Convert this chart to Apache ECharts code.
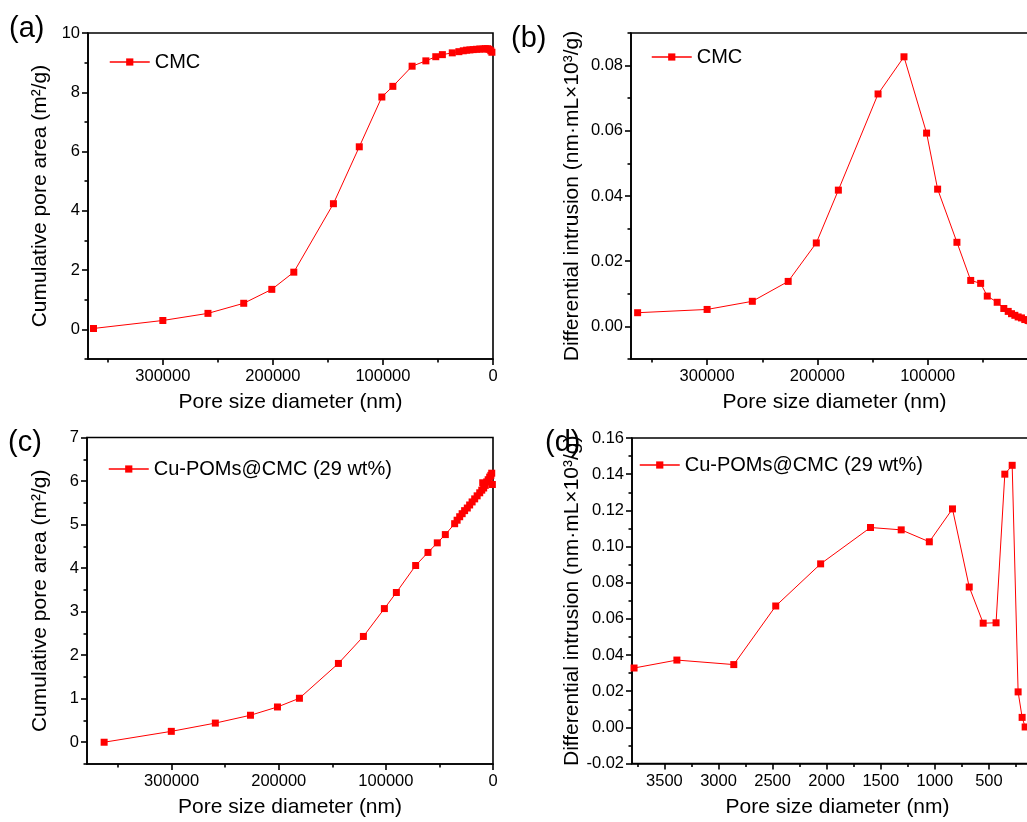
<!DOCTYPE html>
<html><head><meta charset="utf-8">
<script src="https://cdn.jsdelivr.net/npm/echarts@6/dist/echarts.min.js"></script>
<style>html,body{margin:0;padding:0;background:#fff}#c{width:1027px;height:822px}</style>
</head><body><div id="c"></div>
<script>
// ---- data ----
const poreCMC = [363000, 300000, 259000, 226500, 201000, 181000, 145000, 121500, 101000, 91000, 73500, 61000, 52000, 46000, 37000, 31000, 27000, 24000, 21000, 18000, 15000, 12000, 9000, 7000, 5000, 3500, 2000, 1000];
const cumCMC  = [0.03, 0.30, 0.54, 0.88, 1.35, 1.93, 4.24, 6.16, 7.84, 8.20, 8.88, 9.06, 9.20, 9.27, 9.33, 9.37, 9.40, 9.42, 9.43, 9.44, 9.45, 9.46, 9.46, 9.47, 9.47, 9.45, 9.40, 9.35];
const diffCMC = [0.0042, 0.0052, 0.0077, 0.0138, 0.0256, 0.0418, 0.0713, 0.0827, 0.0593, 0.0421, 0.0258, 0.0141, 0.0132, 0.0093, 0.0074, 0.0055, 0.0046, 0.0039, 0.0034, 0.0029, 0.0026, 0.0021, 0.0018, 0.0016, 0.0014, 0.0012, 0.0010, 0.0008];

const poreCu = [363000, 300300, 259200, 226400, 201200, 180700, 144300, 121000, 101400, 90200, 72200, 60700, 52000, 44500, 35800, 33500, 31100, 28800, 26500, 24000, 21800, 19500, 17100, 14800, 12400, 10500, 9600, 8700, 7200, 5900, 4500, 3100, 2000, 1200, 600];
const cumCu  = [0.00, 0.25, 0.44, 0.62, 0.81, 1.01, 1.81, 2.43, 3.07, 3.44, 4.06, 4.36, 4.58, 4.77, 5.02, 5.10, 5.18, 5.25, 5.32, 5.38, 5.45, 5.52, 5.59, 5.66, 5.73, 5.79, 5.96, 5.84, 5.90, 5.98, 6.03, 6.09, 6.13, 6.18, 5.92];

const poreCuD = [3781, 3385, 2859, 2471, 2056, 1595, 1311, 1051, 837, 682, 553, 434, 353, 285, 230, 193, 165];
const diffCu  = [0.0328, 0.0372, 0.0347, 0.0671, 0.0904, 0.1105, 0.1092, 0.1026, 0.1208, 0.0776, 0.0576, 0.0578, 0.1400, 0.1449, 0.0196, 0.0055, 0.0002];

// ---- tick values ----
const bigXMajor = [0, 100000, 200000, 300000];
const bigXMinor = [50000, 150000, 250000, 350000];
const aYMajor = [0, 2, 4, 6, 8, 10];
const aYMinor = [-1, 1, 3, 5, 7, 9];
const bYMajor = [0, 0.02, 0.04, 0.06, 0.08];
const bYMinor = [-0.01, 0.01, 0.03, 0.05, 0.07, 0.09];
const cYMajor = [0, 1, 2, 3, 4, 5, 6, 7];
const cYMinor = [-0.5, 0.5, 1.5, 2.5, 3.5, 4.5, 5.5, 6.5];
const dXMajor = [500, 1000, 1500, 2000, 2500, 3000, 3500];
const dXMinor = [250, 750, 1250, 1750, 2250, 2750, 3250, 3750];
const dYMajor = [-0.02, 0, 0.02, 0.04, 0.06, 0.08, 0.10, 0.12, 0.14, 0.16];
const dYMinor = [-0.01, 0.01, 0.03, 0.05, 0.07, 0.09, 0.11, 0.13, 0.15];

const xName = 'Pore size diameter (nm)';
const cumName = 'Cumulative pore area (m²/g)';
const diffName = 'Differential intrusion (nm·mL×10³/g)';

const FONT = '"Liberation Sans", Arial, Helvetica, sans-serif';
const RED = '#ff0000';

const grids = [
  {left: 88, top: 33, width: 405, height: 326},
  {left: 631, top: 33, width: 407, height: 326},
  {left: 87, top: 437.5, width: 406, height: 326.5},
  {left: 632, top: 438, width: 411, height: 325.5}
];

function axisPair(dim, g, o) {
  const base = {
    type: 'value', gridIndex: g, min: o.min, max: o.max, inverse: !!o.inverse,
    position: dim === 'x' ? 'bottom' : 'left',
    splitLine: {show: false}
  };
  const main = Object.assign({}, base, {
    axisLine: {show: true, onZero: false, lineStyle: {color: '#000', width: 1.6}},
    axisTick: {show: true, customValues: o.major, length: 6, lineStyle: {color: '#000', width: 1.6}},
    axisLabel: {show: true, customValues: o.major, formatter: o.fmt, color: '#000', fontSize: 16.5, fontFamily: FONT, margin: dim === 'x' ? 9 : 8},
    name: o.name, nameLocation: 'middle', nameGap: o.gap,
    nameTextStyle: {fontSize: 21, color: '#000', fontFamily: FONT}
  });
  const minor = Object.assign({}, base, {
    axisLine: {show: false, onZero: false},
    axisTick: {show: true, customValues: o.minor, length: 3.5, lineStyle: {color: '#000', width: 1.6}},
    axisLabel: {show: false}
  });
  return [main, minor];
}

const f2 = v => Number(v).toFixed(2);
const fi = v => String(Math.round(v));

const xAxis = [].concat(
  axisPair('x', 0, {min: 0, max: 368000, inverse: true, major: bigXMajor, minor: bigXMinor, fmt: fi, name: xName, gap: 33}),
  axisPair('x', 1, {min: 0, max: 369000, inverse: true, major: bigXMajor, minor: bigXMinor, fmt: fi, name: xName, gap: 33}),
  axisPair('x', 2, {min: 0, max: 379000, inverse: true, major: bigXMajor, minor: bigXMinor, fmt: fi, name: xName, gap: 33}),
  axisPair('x', 3, {min: 0, max: 3800, inverse: true, major: dXMajor, minor: dXMinor, fmt: fi, name: xName, gap: 33})
);
const yAxis = [].concat(
  axisPair('y', 0, {min: -1, max: 10, major: aYMajor, minor: aYMinor, fmt: fi, name: cumName, gap: 37}),
  axisPair('y', 1, {min: -0.01, max: 0.09, major: bYMajor, minor: bYMinor, fmt: f2, name: diffName, gap: 48}),
  axisPair('y', 2, {min: -0.5, max: 7, major: cYMajor, minor: cYMinor, fmt: fi, name: cumName, gap: 36}),
  axisPair('y', 3, {min: -0.02, max: 0.16, major: dYMajor, minor: dYMinor, fmt: f2, name: diffName, gap: 49})
);

function lineSeries(name, g, xs, ys) {
  return {
    type: 'line', name: name, xAxisIndex: 2 * g, yAxisIndex: 2 * g,
    data: xs.map((x, i) => [x, ys[i]]),
    symbol: 'rect', symbolSize: 7,
    itemStyle: {color: RED},
    lineStyle: {color: RED, width: 1},
    animation: false
  };
}

function legend(left, top, name) {
  return {
    left: left, top: top, data: [name], orient: 'horizontal',
    itemWidth: 40, itemHeight: 9, selectedMode: false,
    lineStyle: {width: 1.5},
    textStyle: {fontSize: 20, color: '#000', fontFamily: FONT, padding: [0, 0, 0, 0]}
  };
}

function panelLabel(text, left, top) {
  return {type: 'text', left: left, top: top, style: {text: text, fontSize: 29, fontFamily: FONT, fill: '#000'}};
}

const option = {
  backgroundColor: '#fff',
  animation: false,
  grid: grids.map(g => Object.assign({show: true, borderColor: '#000', borderWidth: 1.6, backgroundColor: 'transparent', containLabel: false, outerBoundsMode: 'none'}, g)),
  xAxis: xAxis,
  yAxis: yAxis,
  legend: [
    legend(104, 47, 'CMC'),
    legend(646, 42, 'CMC'),
    legend(103, 454, 'Cu-POMs@CMC (29 wt%)'),
    legend(634, 450, 'Cu-POMs@CMC (29 wt%)')
  ],
  series: [
    lineSeries('CMC', 0, poreCMC, cumCMC),
    lineSeries('CMC', 1, poreCMC, diffCMC),
    lineSeries('Cu-POMs@CMC (29 wt%)', 2, poreCu, cumCu),
    lineSeries('Cu-POMs@CMC (29 wt%)', 3, poreCuD, diffCu)
  ],
  graphic: [
    panelLabel('(a)', 9, 14),
    panelLabel('(b)', 511, 24),
    panelLabel('(c)', 8, 428),
    panelLabel('(d)', 545, 428)
  ]
};

const chart = echarts.init(document.getElementById('c'), null, {renderer: 'canvas'});
chart.setOption(option);
</script>
</body></html>
